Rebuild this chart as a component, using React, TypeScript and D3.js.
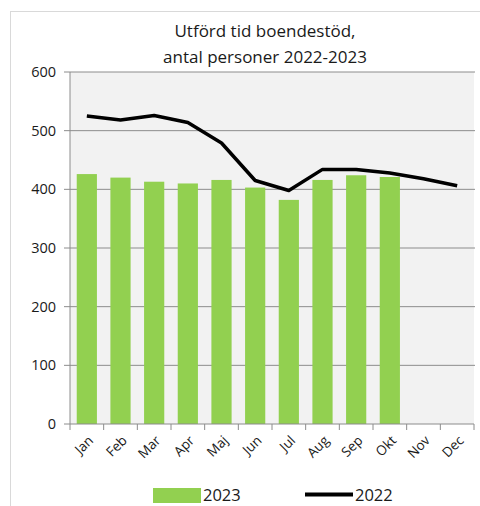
import * as d3 from 'd3';

const months = ['Jan', 'Feb', 'Mar', 'Apr', 'Maj', 'Jun', 'Jul', 'Aug', 'Sep', 'Okt', 'Nov', 'Dec'];
const values2023 = [426, 420, 413, 410, 416, 403, 382, 416, 424, 421];
const values2022 = [525, 518, 526, 514, 479, 415, 398, 434, 434, 428, 418, 406];
const yTicks = [0, 100, 200, 300, 400, 500, 600];

const font = '"Open Sans", "DejaVu Sans", sans-serif';
const green = '#92d050';

export default function App() {
  const width = 480;
  const height = 506;
  const plot = { left: 70, right: 474, top: 72, bottom: 424 };

  const x = d3.scaleBand<string>().domain(months).range([plot.left, plot.right]).paddingInner(0.4).paddingOuter(0.2);
  const xb = d3.scaleBand<string>().domain(months).range([plot.left, plot.right]);
  const y = d3.scaleLinear().domain([0, 600]).range([plot.bottom, plot.top]);

  const line = d3.line<number>()
    .x((_, i) => (xb(months[i]) ?? 0) + xb.bandwidth() / 2)
    .y(d => y(d));

  return (
    <svg width={width} height={height} style={{ position: 'absolute', left: 0, top: 0 }} fontFamily={font}>
      <rect x={0} y={0} width={width} height={height} fill="#fff" />
      <rect x={10.5} y={11.5} width={480} height={520} fill="#fff" stroke="#d9d9d9" />
      <text x={265} y={37} textAnchor="middle" fontSize={17} fill="#1a1a1a">Utförd tid boendestöd,</text>
      <text x={265} y={63} textAnchor="middle" fontSize={17} fill="#1a1a1a">antal personer 2022-2023</text>

      <rect x={plot.left} y={plot.top} width={plot.right - plot.left} height={plot.bottom - plot.top} fill="#f2f2f2" />
      {yTicks.map(t => (
        <g key={t}>
          {t > 0 && <line x1={plot.left} x2={plot.right + 1} y1={y(t)} y2={y(t)} stroke="#8c8c8c" strokeWidth={1} />}
          <line x1={plot.left - 6} x2={plot.left} y1={y(t)} y2={y(t)} stroke="#8c8c8c" />
          <text x={56} y={y(t)} dy="0.35em" textAnchor="end" fontSize={14.5} fill="#1a1a1a">{t}</text>
        </g>
      ))}

      {values2023.map((v, i) => (
        <rect key={months[i]} x={x(months[i])} y={y(v)} width={x.bandwidth()} height={y(0) - y(v)} fill={green} />
      ))}

      <path d={line(values2022) ?? ''} fill="none" stroke="#000" strokeWidth={3.5} strokeLinejoin="round" />

      <line x1={plot.left} x2={plot.left} y1={plot.top} y2={plot.bottom} stroke="#8c8c8c" />
      <line x1={plot.left} x2={plot.right} y1={plot.bottom} y2={plot.bottom} stroke="#8c8c8c" />
      {months.concat(['end']).map((m, i) => {
        const tx = plot.left + i * xb.bandwidth();
        return <line key={m} x1={tx} x2={tx} y1={plot.bottom} y2={plot.bottom + 6} stroke="#8c8c8c" />;
      })}
      {months.map(m => {
        const cx = (xb(m) ?? 0) + xb.bandwidth() / 2 + 4;
        const cy = plot.bottom + 14;
        return (
          <text key={m} transform={`translate(${cx},${cy}) rotate(-45)`} textAnchor="end" dy="0.35em" fontSize={13.5} fill="#1a1a1a">{m}</text>
        );
      })}

      <rect x={153} y={488} width={48} height={15} fill={green} />
      <text x={203} y={501} fontSize={16.5} fill="#1a1a1a">2023</text>
      <line x1={305} x2={353} y1={494.5} y2={494.5} stroke="#000" strokeWidth={4} />
      <text x={355} y={501} fontSize={16.5} fill="#1a1a1a">2022</text>
    </svg>
  );
}
